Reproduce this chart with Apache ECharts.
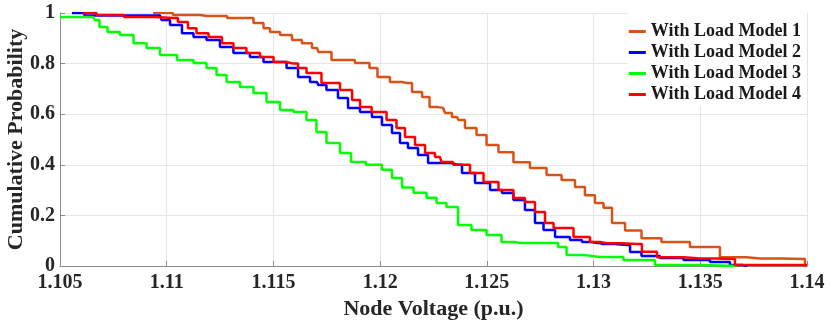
<!DOCTYPE html>
<html>
<head>
<meta charset="utf-8">
<script src="https://cdn.jsdelivr.net/npm/echarts@6/dist/echarts.min.js"></script>
<style>
  html, body { margin: 0; padding: 0; background: #fff; }
  #chart { width: 832px; height: 325px; }
</style>
</head>
<body>
<div id="chart"></div>
<script>
// tick labels
const xTicks = [1.105, 1.11, 1.115, 1.12, 1.125, 1.13, 1.135, 1.14]
const yTicks = [0, 0.2, 0.4, 0.6, 0.8, 1]

const seriesNames = ['With Load Model 1', 'With Load Model 2', 'With Load Model 3', 'With Load Model 4']

// [voltage, cumulative probability]
const model1 = [
  [1.10936, 1.0], [1.11123, 0.992], [1.11189, 0.988], [1.11376, 0.98], [1.11437, 0.96],
  [1.11470, 0.94], [1.11498, 0.925], [1.11564, 0.913], [1.11610, 0.893], [1.11657, 0.88],
  [1.11704, 0.862], [1.11718, 0.846], [1.11826, 0.814], [1.11938, 0.802], [1.11962, 0.783],
  [1.12013, 0.747], [1.12079, 0.727], [1.12126, 0.723], [1.12173, 0.688], [1.12220, 0.668],
  [1.12243, 0.628], [1.12295, 0.625], [1.12313, 0.605], [1.12360, 0.589], [1.12374, 0.577],
  [1.12421, 0.545], [1.12482, 0.518], [1.12515, 0.478], [1.12594, 0.45], [1.12655, 0.41],
  [1.12749, 0.387], [1.12810, 0.36], [1.12890, 0.34], [1.12936, 0.312], [1.12983, 0.28],
  [1.13030, 0.249], [1.13063, 0.23], [1.13110, 0.17], [1.13185, 0.14], [1.13264, 0.11],
  [1.13372, 0.095], [1.13531, 0.075], [1.13653, 0.035], [1.13780, 0.03], [1.13981, 0.028],
  [1.14, 0]
]
const model2 = [
  [1.10556, 1.0], [1.10673, 0.99], [1.10969, 0.99], [1.10983, 0.972], [1.11048, 0.953],
  [1.11095, 0.92], [1.11156, 0.905], [1.11217, 0.893], [1.11282, 0.866], [1.11343, 0.842],
  [1.11437, 0.826], [1.11470, 0.806], [1.11531, 0.806], [1.11592, 0.783], [1.11639, 0.747],
  [1.11704, 0.727], [1.11718, 0.715], [1.11779, 0.696], [1.11826, 0.664], [1.11873, 0.625],
  [1.11938, 0.609], [1.11985, 0.589], [1.12032, 0.557], [1.12079, 0.526], [1.12107, 0.486],
  [1.12154, 0.466], [1.12201, 0.439], [1.12248, 0.407], [1.12313, 0.407], [1.12360, 0.40],
  [1.12407, 0.368], [1.12482, 0.328], [1.12548, 0.30], [1.12594, 0.289], [1.12655, 0.261],
  [1.12702, 0.221], [1.12749, 0.17], [1.12782, 0.142], [1.12857, 0.115], [1.12922, 0.103],
  [1.12969, 0.095], [1.13016, 0.091], [1.13044, 0.087], [1.13157, 0.083], [1.13185, 0.055],
  [1.13264, 0.04], [1.13358, 0.032], [1.13485, 0.024], [1.13606, 0.016], [1.13672, 0.004],
  [1.1372, 0]
]
const model3 = [
  [1.105, 0.984], [1.10655, 0.984], [1.10673, 0.972], [1.10697, 0.945], [1.10748, 0.925],
  [1.10814, 0.913], [1.10875, 0.88], [1.10936, 0.862], [1.11001, 0.834], [1.11095, 0.814],
  [1.11156, 0.802], [1.11217, 0.783], [1.11250, 0.755], [1.11311, 0.727], [1.11376, 0.708],
  [1.11437, 0.684], [1.11498, 0.648], [1.11564, 0.617], [1.11624, 0.609], [1.11685, 0.577],
  [1.11718, 0.53], [1.11779, 0.486], [1.11845, 0.447], [1.11882, 0.411], [1.11985, 0.40],
  [1.12032, 0.38], [1.12079, 0.348], [1.12126, 0.31], [1.12187, 0.29], [1.12248, 0.27],
  [1.12280, 0.249], [1.12341, 0.233], [1.12388, 0.162], [1.12468, 0.142], [1.12529, 0.123],
  [1.12608, 0.095], [1.12655, 0.091], [1.12810, 0.091], [1.12857, 0.075], [1.12890, 0.043],
  [1.13030, 0.036], [1.13250, 0.024], [1.13325, 0.004], [1.13672, 0]
]
const model4 = [
  [1.10608, 1.0], [1.10734, 0.992], [1.10865, 0.984], [1.11029, 0.98], [1.11076, 0.964],
  [1.11123, 0.94], [1.11156, 0.92], [1.11236, 0.905], [1.11282, 0.88], [1.11343, 0.862],
  [1.11404, 0.842], [1.11470, 0.826], [1.11531, 0.806], [1.11592, 0.80], [1.11639, 0.783],
  [1.11671, 0.763], [1.11779, 0.723], [1.11845, 0.696], [1.11892, 0.656], [1.11920, 0.628],
  [1.12000, 0.609], [1.12060, 0.577], [1.12093, 0.545], [1.12140, 0.51], [1.12187, 0.478],
  [1.12234, 0.447], [1.12280, 0.431], [1.12295, 0.411], [1.12388, 0.40], [1.12454, 0.368],
  [1.12515, 0.332], [1.12594, 0.30], [1.12655, 0.269], [1.12702, 0.253], [1.12749, 0.213],
  [1.12796, 0.17], [1.12829, 0.15], [1.12890, 0.15], [1.12922, 0.115], [1.12969, 0.115],
  [1.12997, 0.095], [1.13063, 0.09], [1.13203, 0.087], [1.13250, 0.056], [1.13344, 0.035],
  [1.13499, 0.03], [1.13653, 0.028], [1.13672, 0.004], [1.14, 0.004]
]

const colors = ['#D95319', '#0000FF', '#00FF00', '#FF0000']
const serif = '"Liberation Serif", "Times New Roman", serif'

const chart = echarts.init(document.getElementById('chart'), null, { renderer: 'canvas' })

const makeSeries = (name, data, color) => ({
  name,
  type: 'line',
  step: 'middle',
  data,
  symbol: 'none',
  lineStyle: { color, width: 2.5 },
  itemStyle: { color },
  animation: false
})

chart.setOption({
  backgroundColor: '#fff',
  grid: { left: 60, right: 25, top: 13, bottom: 59, containLabel: false, outerBoundsMode: 'none' },
  legend: {
    orient: 'vertical',
    right: 25,
    top: 13,
    padding: [8, 6, 1, 1],
    backgroundColor: '#fff',
    itemGap: 0,
    itemWidth: 17,
    itemHeight: 3,
    icon: 'rect',
    textStyle: { fontFamily: serif, fontWeight: 'bold', fontSize: 18, color: '#1a1a1a', lineHeight: 21 },
    data: seriesNames
  },
  xAxis: {
    type: 'value',
    min: xTicks[0],
    max: xTicks[xTicks.length - 1],
    interval: 0.005,
    name: 'Node Voltage (p.u.)',
    nameLocation: 'middle',
    nameGap: 32,
    nameMoveOverlap: false,
    nameTextStyle: { fontFamily: serif, fontWeight: 'bold', fontSize: 22, color: '#262626' },
    axisLine: { lineStyle: { color: '#8c8c8c', width: 1 } },
    axisTick: { inside: true, length: 5, lineStyle: { color: '#8c8c8c' } },
    axisLabel: {
      margin: 7,
      fontFamily: serif, fontWeight: 'bold', fontSize: 20, color: '#262626',
      formatter: v => String(xTicks.find(t => Math.abs(t - v) < 1e-6) ?? '')
    },
    splitLine: { show: true, lineStyle: { color: '#e6e6e6', width: 1 } }
  },
  yAxis: {
    type: 'value',
    min: 0,
    max: 1,
    interval: 0.2,
    name: 'Cumulative Probability',
    nameLocation: 'middle',
    nameGap: 33,
    nameMoveOverlap: false,
    nameTextStyle: { fontFamily: serif, fontWeight: 'bold', fontSize: 22, color: '#262626' },
    axisLine: { show: true, lineStyle: { color: '#8c8c8c', width: 1 } },
    axisTick: { show: true, inside: true, length: 5, lineStyle: { color: '#8c8c8c' } },
    axisLabel: {
      margin: 5,
      fontFamily: serif, fontWeight: 'bold', fontSize: 20, color: '#262626',
      formatter: v => String(yTicks.find(t => Math.abs(t - v) < 1e-6) ?? '')
    },
    splitLine: { show: true, lineStyle: { color: '#e6e6e6', width: 1 } }
  },
  series: [
    makeSeries(seriesNames[0], model1, colors[0]),
    makeSeries(seriesNames[1], model2, colors[1]),
    makeSeries(seriesNames[2], model3, colors[2]),
    makeSeries(seriesNames[3], model4, colors[3])
  ]
})
</script>
</body>
</html>
